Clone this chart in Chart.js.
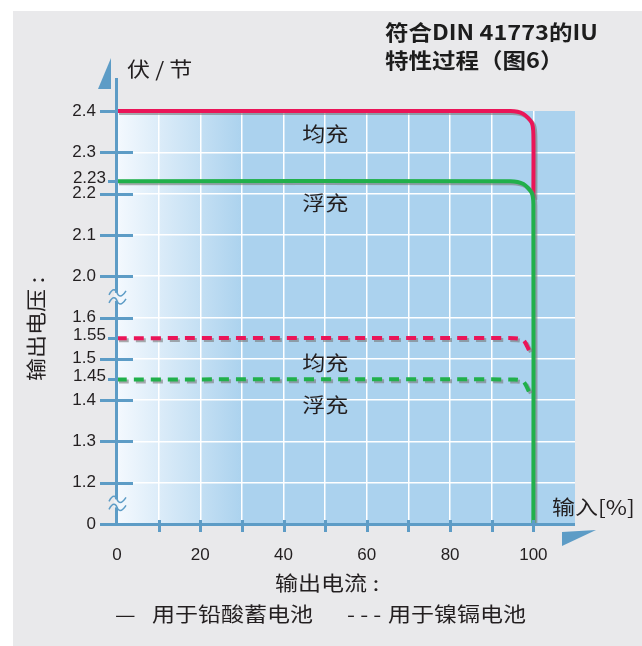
<!DOCTYPE html>
<html>
<head>
<meta charset="utf-8">
<script src="https://cdn.jsdelivr.net/npm/chart.js@4.4.0/dist/chart.umd.min.js"></script>
<style>
  html, body { margin: 0; padding: 0; background: #fff; }
  #wrap { position: relative; width: 642px; height: 646px; overflow: hidden; }
  #panel { position: absolute; left: 13px; top: 11px; right: 0; bottom: 0; background: #e9e9eb; }
  #box { position: absolute; left: 0; top: 0; width: 642px; height: 646px; }
  .t { position: absolute; color: #231f20; font-family: "Noto Sans CJK SC", sans-serif; font-size: 20px;
       line-height: 1; white-space: nowrap; transform: scaleX(1.15); transform-origin: 0 0; }
  #title { left: 385px; top: 17px; font-size: 21px; font-weight: bold; line-height: 28px; color: #1d1d1d; transform: scaleX(1.12); }
  #yunit { left: 127px; top: 59px; }
  #ytitle { left: 26px; top: 381px; transform: rotate(-90deg) scaleX(1.15); }
  #xunit { left: 552px; top: 497px; }
  #xtitle { left: 275px; top: 573px; }
  #leg1 { left: 115px; top: 604px; }
  #leg2 { left: 152px; top: 604px; }
  #leg3 { left: 347px; top: 604px; }
  #leg4 { left: 388px; top: 604px; }
  .c { margin-left: 5px; }
</style>
</head>
<body>
<div id="wrap">
  <div id="panel"></div>
  <div id="box"><canvas id="chart-iu"></canvas></div>
  <div class="t" id="title">符合DIN 41773的IU<br>特性过程（图6）</div>
  <div class="t" id="yunit">伏 / 节</div>
  <div class="t" id="ytitle">输出电压<span class="c">:</span></div>
  <div class="t" id="xunit">输入[%]</div>
  <div class="t" id="xtitle">输出电流<span class="c">:</span></div>
  <div class="t" id="leg1">—</div>
  <div class="t" id="leg2">用于铅酸蓄电池</div>
  <div class="t" id="leg3">- - -</div>
  <div class="t" id="leg4">用于镍镉电池</div>
</div>
<script>
// x axis: output current in %, y axis: volts per cell (broken axis)
const xMax = 110;
const xStep = 10;
const xLabelled = [0, 20, 40, 60, 80, 100];

const yTickVolts = [0, 1.2, 1.3, 1.4, 1.45, 1.5, 1.55, 1.6, 2.0, 2.1, 2.2, 2.23, 2.3, 2.4];
const yTickLabels = ['0', '1.2', '1.3', '1.4', '1.45', '1.5', '1.55', '1.6', '2.0', '2.1', '2.2', '2.23', '2.3', '2.4'];
const yShortTicks = [1.45, 1.55, 2.23];

// lead-acid (solid)
const leadEqX = [0, 94.5, 97.6, 99.6, 100, 100];
const leadEqV = [2.4, 2.4, 2.393, 2.372, 2.344, 2.19];
const leadFloatX = [0, 94.5, 97.6, 99.6, 100, 100];
const leadFloatV = [2.23, 2.23, 2.223, 2.202, 2.174, 0];
// NiCd (dashed)
const nicdEqX = [0, 95.5, 97.6, 99];
const nicdEqV = [1.55, 1.55, 1.545, 1.52];
const nicdFloatX = [0, 95.5, 97.6, 99];
const nicdFloatV = [1.45, 1.45, 1.445, 1.42];

const zoneLabels = ['均充', '浮充', '均充', '浮充'];
const zoneX = [50, 50, 50, 50];
const zoneV = [2.344, 2.177, 1.49, 1.388];

const RED = '#ea1558';
const GREEN = '#21b04b';
const AXIS = '#5d9cc6';
const TICK_FONT = '17px "Liberation Sans", Arial, sans-serif';

// volts -> position on the broken axis (one unit per 0.1 V, gaps squeezed)
function toAxis(v) {
  if (v >= 2.0) return 6 + (v - 2.0) * 10;
  if (v >= 1.6) return 5 + (v - 1.6) * 2.5;
  if (v >= 1.2) return 1 + (v - 1.2) * 10;
  return v / 1.2;
}

function pts(xs, vs) {
  return xs.map((x, i) => ({ x, y: toAxis(vs[i]) }));
}

const decor = {
  id: 'decor',
  beforeDraw(chart) {
    const { ctx, chartArea: a } = chart;
    const g = ctx.createLinearGradient(a.left, 0, a.left + 126, 0);
    g.addColorStop(0, '#f4f9fe');
    g.addColorStop(1, '#abd2ee');
    ctx.save();
    ctx.fillStyle = g;
    ctx.fillRect(a.left, a.top, a.right - a.left, a.bottom - a.top);
    ctx.restore();
  },
  beforeDatasetDraw(chart) {
    const ctx = chart.ctx;
    ctx.save();
    ctx.shadowColor = 'rgba(120,120,120,0.6)';
    ctx.shadowOffsetX = 2;
    ctx.shadowOffsetY = 2;
    ctx.shadowBlur = 0;
  },
  afterDatasetDraw(chart) {
    chart.ctx.restore();
  },
  afterDatasetsDraw(chart) {
    const { ctx, chartArea: a, scales } = chart;
    const ys = scales.y, xs = scales.x;
    ctx.save();
    ctx.strokeStyle = AXIS;
    ctx.fillStyle = AXIS;
    ctx.lineWidth = 3;

    // y axis line + arrow
    ctx.beginPath();
    ctx.moveTo(a.left - 0.5, a.top - 33);
    ctx.lineTo(a.left - 0.5, a.bottom + 1.5);
    ctx.stroke();
    ctx.beginPath();
    ctx.moveTo(a.left - 19, a.top - 22);
    ctx.lineTo(a.left - 6, a.top - 22);
    ctx.lineTo(a.left - 6, a.top - 53);
    ctx.closePath();
    ctx.fill();

    // y ticks (short ones get their label nearer the axis)
    yTickVolts.forEach((v, i) => {
      if (v === 0) return;
      const py = Math.round(ys.getPixelForValue(toAxis(v))) + 0.5;
      ctx.beginPath();
      if (yShortTicks.includes(v)) {
        ctx.moveTo(a.left - 9, py);
        ctx.lineTo(a.left, py);
        ctx.stroke();
        ctx.save();
        ctx.fillStyle = '#231f20';
        ctx.font = TICK_FONT;
        ctx.textAlign = 'right';
        ctx.textBaseline = 'middle';
        ctx.fillText(yTickLabels[i], a.left - 11, py - 3);
        ctx.restore();
      } else {
        ctx.moveTo(a.left - 17, py);
        ctx.lineTo(v === 2.4 ? a.left : a.left + 16, py);
        ctx.stroke();
      }
    });

    // x axis line + ticks + arrow
    ctx.beginPath();
    ctx.moveTo(a.left - 17, a.bottom + 0.5);
    ctx.lineTo(a.right, a.bottom + 0.5);
    ctx.stroke();
    for (let v = xStep; v <= 100; v += xStep) {
      const px = Math.round(xs.getPixelForValue(v)) + 0.5;
      ctx.beginPath();
      ctx.moveTo(px, a.bottom - 4);
      ctx.lineTo(px, a.bottom + 8);
      ctx.stroke();
    }
    ctx.beginPath();
    ctx.moveTo(a.right - 13, a.bottom + 8);
    ctx.lineTo(a.right + 21, a.bottom + 6);
    ctx.lineTo(a.right - 13, a.bottom + 22);
    ctx.closePath();
    ctx.fill();

    // axis break marks
    [5.5, 0.5].forEach((d) => {
      const yc = ys.getPixelForValue(d);
      ctx.fillStyle = '#eef2f6';
      ctx.fillRect(a.left - 3, yc - 4, 5, 8);
      ctx.lineWidth = 1.5;
      [-4, 4].forEach((dy) => {
        const y0 = yc + dy;
        ctx.beginPath();
        ctx.moveTo(a.left - 8, y0 + 2);
        ctx.bezierCurveTo(a.left - 4, y0 - 6, a.left - 1, y0 - 3, a.left, y0);
        ctx.bezierCurveTo(a.left + 1, y0 + 3, a.left + 4, y0 + 6, a.left + 9, y0 - 2);
        ctx.stroke();
      });
    });

    // zone labels
    ctx.fillStyle = '#231f20';
    ctx.font = '20px "Noto Sans CJK SC"';
    ctx.textAlign = 'center';
    ctx.textBaseline = 'middle';
    zoneLabels.forEach((txt, i) => {
      ctx.save();
      ctx.translate(xs.getPixelForValue(zoneX[i]), ys.getPixelForValue(toAxis(zoneV[i])));
      ctx.scale(1.15, 1);
      ctx.fillText(txt, 0, 0);
      ctx.restore();
    });
    ctx.restore();
  }
};

const ctx = document.getElementById('chart-iu').getContext('2d');
const chart = new Chart(ctx, {
  type: 'line',
  data: {
    datasets: [
      { label: 'lead eq', data: pts(leadEqX, leadEqV), borderColor: RED, order: 3 },
      { label: 'lead float', data: pts(leadFloatX, leadFloatV), borderColor: GREEN, order: 2 },
      { label: 'nicd eq', data: pts(nicdEqX, nicdEqV), borderColor: RED, borderDash: [10, 7], order: 1 },
      { label: 'nicd float', data: pts(nicdFloatX, nicdFloatV), borderColor: GREEN, borderDash: [10, 7], order: 0 }
    ]
  },
  options: {
    responsive: true,
    maintainAspectRatio: false,
    animation: false,
    events: [],
    layout: { padding: { left: 0, top: 111, right: 67, bottom: 0 } },
    datasets: { line: { borderWidth: 4, pointRadius: 0, tension: 0.25, fill: false, clip: false } },
    plugins: { legend: { display: false }, tooltip: { enabled: false } },
    scales: {
      x: {
        type: 'linear',
        min: 0,
        max: xMax,
        border: { display: false },
        grid: {
          drawTicks: false,
          lineWidth: 1.5,
          color: (c) => (c.tick && c.tick.value > 0 && c.tick.value <= 100 ? '#ffffff' : 'rgba(0,0,0,0)')
        },
        ticks: {
          stepSize: xStep,
          autoSkip: false,
          maxRotation: 0,
          padding: 21,
          color: '#231f20',
          font: { family: '"Liberation Sans", Arial, sans-serif', size: 17 },
          callback: (v) => (xLabelled.includes(v) ? String(v) : '')
        },
        afterFit: (s) => { s.height = 122; }
      },
      y: {
        type: 'linear',
        min: 0,
        max: toAxis(2.4),
        border: { display: false },
        afterBuildTicks: (s) => { s.ticks = yTickVolts.map((v) => ({ value: toAxis(v) })); },
        grid: {
          drawTicks: false,
          lineWidth: 1.5,
          color: (c) => {
            const v = yTickVolts[c.index];
            if (v === undefined || v === 0 || v === 2.4 || yShortTicks.includes(v)) return 'rgba(0,0,0,0)';
            return '#ffffff';
          }
        },
        ticks: {
          autoSkip: false,
          padding: 21,
          color: '#231f20',
          font: { family: '"Liberation Sans", Arial, sans-serif', size: 17 },
          callback: (v, i) => (yShortTicks.includes(yTickVolts[i]) ? '' : yTickLabels[i])
        },
        afterFit: (s) => { s.width = 117; }
      }
    }
  },
  plugins: [decor]
});
</script>
</body>
</html>
